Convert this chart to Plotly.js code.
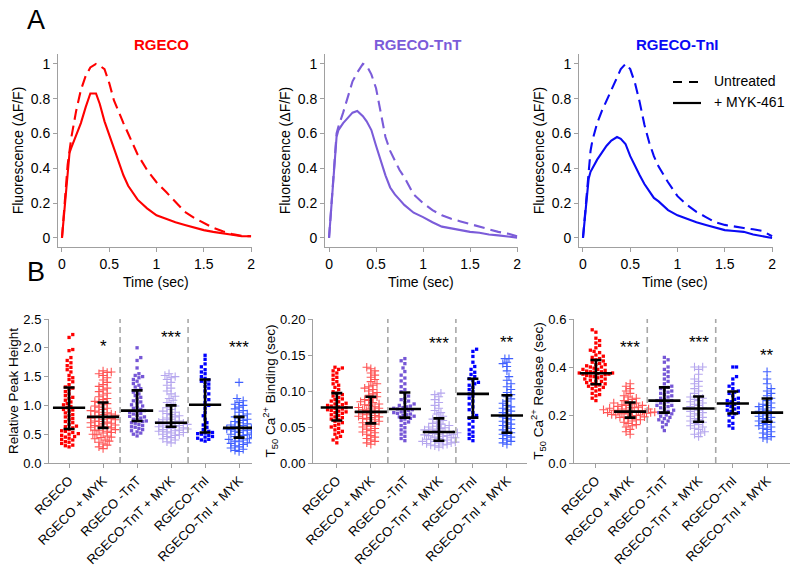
<!DOCTYPE html>
<html>
<head>
<meta charset="utf-8">
<script src="https://cdn.plot.ly/plotly-3.0.1.min.js"></script>
<style>html,body{margin:0;padding:0;background:#fff}#chart{width:800px;height:567px}</style>
</head>
<body>
<div id="chart"></div>
<script>
// ---------- Panel A: fluorescence transients ----------
const timeSec = [0,0.03,0.06,0.08,0.1,0.15,0.2,0.25,0.3,0.36,0.4,0.45,0.5,0.55,0.6,0.65,0.7,0.75,0.8,0.9,1.0,1.1,1.2,1.3,1.4,1.5,1.6,1.7,1.8,1.9,2.0];
const rgecoUntreated = [0,0.2,0.42,0.5,0.58,0.73,0.85,0.93,0.98,1.0,0.99,0.97,0.89,0.79,0.72,0.66,0.6,0.54,0.48,0.39,0.32,0.265,0.21,0.15,0.115,0.085,0.058,0.038,0.022,0.012,0.01];
const rgecoMyk = [0,0.2,0.38,0.49,0.52,0.59,0.66,0.75,0.83,0.83,0.77,0.67,0.59,0.51,0.43,0.36,0.3,0.26,0.22,0.17,0.13,0.11,0.09,0.075,0.06,0.045,0.035,0.025,0.018,0.01,0.01];
const tntUntreated = [0,0.25,0.45,0.6,0.64,0.72,0.81,0.9,0.95,1.0,0.99,0.94,0.86,0.73,0.58,0.5,0.44,0.39,0.35,0.25,0.2,0.16,0.13,0.11,0.095,0.08,0.065,0.05,0.035,0.025,0.01];
const tntMyk = [0,0.22,0.41,0.58,0.62,0.66,0.69,0.72,0.73,0.7,0.67,0.62,0.53,0.44,0.36,0.29,0.25,0.22,0.19,0.145,0.12,0.09,0.065,0.055,0.045,0.035,0.03,0.02,0.015,0.008,0.002];
const tniUntreated = [0,0.18,0.36,0.5,0.56,0.66,0.73,0.79,0.86,0.93,0.97,1.0,0.97,0.89,0.78,0.65,0.55,0.47,0.41,0.32,0.24,0.19,0.15,0.12,0.09,0.075,0.065,0.057,0.05,0.04,0.01];
const tniMyk = [0,0.18,0.34,0.38,0.4,0.45,0.49,0.53,0.56,0.58,0.57,0.54,0.47,0.41,0.36,0.31,0.27,0.23,0.21,0.16,0.13,0.11,0.09,0.075,0.06,0.045,0.04,0.035,0.02,0.012,0.0];
const panelTitles = ['RGECO','RGECO-TnT','RGECO-TnI'];
const panelColors = ['#ff0000','#7b5cd9','#0a0af5'];
const legendLabels = ['Untreated','+ MYK-461'];

// ---------- Panel B: per-cell measurements ----------
const catLabels = ['RGECO','RGECO + MYK','RGECO -TnT','RGECO-TnT + MYK','RGECO-TnI','RGECO-TnI + MYK'];
const groupColors = ['#ff0000','#ff5555','#7657d6','#b6a7ee','#0000ff','#4060ff'];
const groupIsMyk = [false,true,false,true,false,true];

// Relative peak height
const peakRGECO = [0.28,0.30,0.31,0.34,0.36,0.37,0.40,0.41,0.43,0.45,0.46,0.48,0.50,0.51,0.53,0.55,0.56,0.58,0.61,0.63,0.64,0.67,0.70,0.72,0.75,0.77,0.80,0.82,0.84,0.87,0.90,0.92,0.93,0.96,0.98,1.01,1.03,1.06,1.09,1.12,1.14,1.17,1.20,1.24,1.27,1.30,1.32,1.36,1.41,1.45,1.48,1.52,1.58,1.62,1.66,1.69,1.74,1.78,1.83,1.95,1.97,2.18,2.23];
const peakRGECOMyk = [0.25,0.28,0.31,0.33,0.36,0.38,0.40,0.42,0.44,0.45,0.47,0.49,0.50,0.52,0.53,0.55,0.56,0.57,0.58,0.60,0.61,0.62,0.63,0.64,0.65,0.66,0.68,0.69,0.70,0.71,0.72,0.73,0.75,0.76,0.77,0.78,0.79,0.80,0.81,0.83,0.84,0.85,0.87,0.88,0.90,0.91,0.93,0.95,0.97,0.99,1.01,1.03,1.05,1.07,1.10,1.12,1.15,1.18,1.21,1.24,1.27,1.30,1.33,1.36,1.40,1.44,1.48,1.52,1.55,1.57,1.58,1.60];
const peakTnT = [0.47,0.50,0.52,0.54,0.56,0.58,0.60,0.62,0.63,0.65,0.67,0.69,0.70,0.72,0.73,0.75,0.76,0.78,0.80,0.81,0.83,0.85,0.86,0.88,0.90,0.91,0.93,0.95,0.97,0.99,1.01,1.04,1.06,1.08,1.11,1.14,1.17,1.20,1.23,1.26,1.29,1.32,1.35,1.38,1.42,1.45,1.48,1.50,1.52,1.55,1.65,1.78,1.83,2.00];
const peakTnTMyk = [0.35,0.37,0.40,0.42,0.44,0.46,0.48,0.49,0.50,0.52,0.53,0.54,0.55,0.56,0.57,0.58,0.59,0.60,0.61,0.62,0.63,0.64,0.65,0.66,0.67,0.68,0.69,0.70,0.71,0.72,0.73,0.75,0.76,0.78,0.80,0.82,0.84,0.86,0.88,0.90,0.93,0.96,0.99,1.02,1.05,1.09,1.12,1.16,1.20,1.25,1.30,1.35,1.40,1.45,1.48,1.50,1.52,1.55];
const peakTnI = [0.38,0.40,0.41,0.43,0.45,0.46,0.48,0.50,0.51,0.52,0.53,0.55,0.58,0.62,0.66,0.70,0.76,0.82,0.88,0.95,1.00,1.05,1.10,1.15,1.20,1.25,1.30,1.33,1.37,1.40,1.42,1.44,1.47,1.50,1.55,1.58,1.62,1.67,1.72,1.80,1.87];
const peakTnIMyk = [0.20,0.22,0.24,0.26,0.28,0.30,0.32,0.34,0.35,0.37,0.38,0.40,0.41,0.42,0.44,0.45,0.46,0.48,0.49,0.50,0.52,0.53,0.55,0.56,0.57,0.58,0.59,0.60,0.62,0.63,0.65,0.66,0.68,0.70,0.72,0.74,0.76,0.78,0.80,0.82,0.85,0.88,0.91,0.94,0.97,1.00,1.02,1.05,1.08,1.12,1.40];
const peakCenter = [0.96,0.80,0.91,0.70,1.01,0.61];
const peakLow = [0.59,0.61,0.73,0.63,0.53,0.44];
const peakHigh = [1.31,1.05,1.26,1.00,1.45,0.80];

// T50 Ca binding (sec)
const bindRGECO = [0.028,0.032,0.035,0.037,0.040,0.042,0.044,0.046,0.048,0.050,0.052,0.054,0.056,0.058,0.060,0.061,0.063,0.064,0.066,0.067,0.069,0.070,0.071,0.072,0.073,0.074,0.075,0.076,0.077,0.078,0.079,0.080,0.081,0.082,0.083,0.085,0.086,0.088,0.089,0.091,0.093,0.095,0.097,0.099,0.102,0.105,0.108,0.110,0.113,0.116,0.119,0.122,0.125,0.128,0.130,0.132,0.133];
const bindRGECOMyk = [0.026,0.028,0.030,0.032,0.034,0.036,0.038,0.040,0.042,0.043,0.045,0.047,0.048,0.050,0.051,0.053,0.054,0.056,0.057,0.058,0.060,0.061,0.062,0.063,0.064,0.065,0.066,0.067,0.068,0.069,0.070,0.071,0.072,0.073,0.074,0.075,0.076,0.077,0.078,0.080,0.081,0.082,0.084,0.085,0.087,0.088,0.090,0.092,0.094,0.096,0.098,0.100,0.102,0.104,0.106,0.108,0.110,0.113,0.116,0.119,0.122,0.125,0.128,0.131,0.133];
const bindTnT = [0.031,0.034,0.037,0.040,0.043,0.046,0.049,0.052,0.055,0.057,0.059,0.061,0.062,0.064,0.065,0.066,0.067,0.068,0.069,0.070,0.071,0.072,0.073,0.074,0.075,0.076,0.077,0.078,0.079,0.080,0.082,0.084,0.086,0.088,0.090,0.093,0.096,0.099,0.102,0.106,0.110,0.114,0.118,0.122,0.127,0.132,0.138,0.142,0.145];
const bindTnTMyk = [0.022,0.024,0.025,0.025,0.026,0.027,0.028,0.028,0.029,0.030,0.030,0.031,0.032,0.033,0.033,0.034,0.035,0.035,0.036,0.037,0.038,0.038,0.039,0.040,0.040,0.041,0.042,0.043,0.043,0.044,0.045,0.046,0.047,0.048,0.049,0.050,0.051,0.052,0.054,0.055,0.057,0.059,0.061,0.063,0.065,0.068,0.070,0.073,0.076,0.080,0.084,0.088,0.092,0.095,0.097];
const bindTnI = [0.031,0.034,0.037,0.040,0.043,0.046,0.050,0.054,0.058,0.062,0.064,0.066,0.070,0.074,0.078,0.082,0.086,0.090,0.093,0.096,0.099,0.102,0.105,0.108,0.110,0.112,0.115,0.117,0.120,0.123,0.126,0.130,0.134,0.140,0.148,0.155,0.158];
const bindTnIMyk = [0.026,0.028,0.030,0.032,0.034,0.036,0.038,0.040,0.042,0.044,0.046,0.048,0.050,0.052,0.054,0.056,0.058,0.060,0.062,0.064,0.066,0.068,0.070,0.072,0.074,0.076,0.078,0.080,0.083,0.086,0.089,0.092,0.095,0.098,0.102,0.106,0.110,0.115,0.120,0.128,0.134,0.138,0.140,0.145,0.145];
const bindCenter = [0.077,0.071,0.075,0.043,0.096,0.066];
const bindLow = [0.059,0.055,0.063,0.031,0.063,0.042];
const bindHigh = [0.097,0.092,0.098,0.062,0.117,0.094];

// T50 Ca release (sec)
const relRGECO = [0.26,0.27,0.28,0.285,0.29,0.30,0.305,0.31,0.315,0.32,0.32,0.325,0.33,0.33,0.335,0.34,0.34,0.345,0.35,0.35,0.355,0.36,0.36,0.362,0.365,0.368,0.37,0.37,0.372,0.375,0.375,0.378,0.38,0.38,0.383,0.386,0.39,0.39,0.395,0.40,0.40,0.405,0.41,0.41,0.415,0.42,0.425,0.43,0.435,0.44,0.445,0.45,0.46,0.465,0.47,0.48,0.49,0.50,0.51,0.52,0.545,0.555];
const relRGECOMyk = [0.12,0.13,0.14,0.15,0.155,0.16,0.165,0.17,0.175,0.18,0.18,0.185,0.19,0.19,0.192,0.195,0.198,0.20,0.20,0.202,0.205,0.205,0.208,0.21,0.21,0.212,0.215,0.215,0.217,0.218,0.22,0.22,0.222,0.225,0.225,0.228,0.23,0.23,0.233,0.236,0.24,0.24,0.243,0.246,0.25,0.25,0.255,0.26,0.265,0.27,0.275,0.28,0.29,0.30,0.31,0.32,0.33];
const relTnT = [0.135,0.15,0.16,0.17,0.175,0.18,0.185,0.19,0.195,0.20,0.205,0.21,0.21,0.215,0.22,0.225,0.23,0.235,0.24,0.24,0.245,0.25,0.255,0.26,0.26,0.265,0.27,0.275,0.28,0.285,0.29,0.295,0.30,0.305,0.31,0.315,0.32,0.33,0.34,0.35,0.36,0.37,0.38,0.39,0.40,0.42,0.43,0.44];
const relTnTMyk = [0.11,0.12,0.125,0.13,0.14,0.145,0.15,0.155,0.16,0.165,0.17,0.175,0.18,0.185,0.19,0.195,0.20,0.205,0.21,0.215,0.22,0.225,0.23,0.235,0.24,0.245,0.25,0.255,0.26,0.265,0.27,0.275,0.28,0.29,0.30,0.31,0.32,0.33,0.34,0.35,0.37,0.39,0.40,0.40];
const relTnI = [0.145,0.155,0.165,0.175,0.19,0.20,0.205,0.21,0.215,0.22,0.225,0.23,0.235,0.24,0.245,0.25,0.255,0.26,0.265,0.27,0.28,0.29,0.295,0.30,0.31,0.32,0.33,0.35,0.36,0.40,0.40];
const relTnIMyk = [0.10,0.105,0.11,0.12,0.125,0.13,0.14,0.145,0.15,0.155,0.16,0.165,0.17,0.175,0.18,0.185,0.19,0.195,0.20,0.205,0.21,0.215,0.22,0.225,0.23,0.235,0.24,0.245,0.25,0.26,0.27,0.28,0.29,0.30,0.31,0.33,0.35,0.38];
const relCenter = [0.374,0.214,0.26,0.227,0.248,0.21];
const relLow = [0.328,0.189,0.21,0.172,0.206,0.172];
const relHigh = [0.429,0.252,0.315,0.277,0.298,0.269];

// significance markers
const peakSigLabel = ['','*','','***','','***'];
const peakSigY = [0,2.1,0,2.24,0,2.08];
const bindSigLabel = ['','','','***','','**'];
const bindSigY = [0,0,0,0.172,0,0.173];
const relSigLabel = ['','***','','***','','**'];
const relSigY = [0,0.496,0,0.517,0,0.466];

// ---------- layout geometry (pixels) ----------
const W = 800, H = 567;
const FONT = 'Liberation Sans, Arial, Helvetica, sans-serif';
const topY = [54, 247];
const topX = [[58,252],[325,518],[579,773]];
const topXRange = [[-0.042,2.01],[-0.043,2.01],[-0.042,2.01]];
const topYRange = [-0.052,1.057];
const topXTitle = 'Time (sec)';
const topXTitleCenter = [156, 421, 675];
const topYTitle = 'Fluorescence (ΔF/F)';
const botY = [319, 463];
const botX = [[49,252],[313,527],[574,790]];
const botXRange = [[-0.59,5.38],[-0.70,5.59],[-0.64,5.67]];
const botYRange = [[0,2.5],[0,0.2],[0,0.6]];
const botYTitles = ['Relative Peak Height','T<sub>50</sub> Ca<sup>2+</sup> Binding (sec)','T<sub>50</sub> Ca<sup>2+</sup> Release (sec)'];
const botTickFormat = ['.1f','.2f','.1f'];
const botDtick = [0.5,0.05,0.2];

const dx = p => [p[0]/W, p[1]/W];
const dy = p => [1 - p[1]/H, 1 - p[0]/H];

// beeswarm placement of points (layout only; values are untouched)
function swarmOffsets(vals, pxPerY, diam) {
  const order = vals.map((v,i)=>i).sort((a,b)=>vals[a]-vals[b]);
  const placed = [];
  const out = new Array(vals.length).fill(0);
  const step = diam*0.5;
  let flip = 1;
  for (const i of order) {
    const y = vals[i]*pxPerY;
    let chosen = 0;
    for (let k=0;k<200;k++) {
      const cands = k===0 ? [0] : [flip*k*step, -flip*k*step];
      let ok = null;
      for (const c of cands) {
        let free = true;
        for (const p of placed) {
          if ((p.x-c)*(p.x-c)+(p.y-y)*(p.y-y) < diam*diam) { free = false; break; }
        }
        if (free) { ok = c; break; }
      }
      if (ok !== null) { chosen = ok; break; }
    }
    flip = -flip;
    placed.push({x:chosen, y});
    out[i] = chosen;
  }
  return out;
}

const traces = [];
const layout = {
  width: W, height: H,
  margin: {l:0,r:0,t:0,b:0},
  paper_bgcolor: '#fff', plot_bgcolor: 'rgba(0,0,0,0)',
  showlegend: false,
  font: {family: FONT, color: '#000', size: 13},
  shapes: [], annotations: []
};
const axisBase = {
  showline: true, linecolor: '#a0a0a0', linewidth: 1,
  ticks: 'outside', ticklen: 4, tickcolor: '#a0a0a0', tickwidth: 1,
  showgrid: false, zeroline: false, fixedrange: true
};

// top panels
const topSeries = [[rgecoUntreated, rgecoMyk],[tntUntreated, tntMyk],[tniUntreated, tniMyk]];
for (let p=0;p<3;p++) {
  const n = p+1;
  const xa = 'x'+(n===1?'':n), ya = 'y'+(n===1?'':n);
  traces.push({x: timeSec, y: topSeries[p][0], xaxis: xa, yaxis: ya, mode:'lines', type:'scatter',
    line:{color: panelColors[p], width: 2.1, dash:'11px,6px'}, hoverinfo:'skip'});
  traces.push({x: timeSec, y: topSeries[p][1], xaxis: xa, yaxis: ya, mode:'lines', type:'scatter',
    line:{color: panelColors[p], width: 2.1}, hoverinfo:'skip'});
  layout['xaxis'+(n===1?'':n)] = Object.assign({}, axisBase, {
    domain: dx(topX[p]), range: topXRange[p], anchor: ya, tickvals:[0,0.5,1,1.5,2], ticktext:['0','0.5','1','1.5','2'],
    tickfont:{size:14}
  });
  layout['yaxis'+(n===1?'':n)] = Object.assign({}, axisBase, {
    domain: dy(topY), range: topYRange, anchor: xa, tickvals:[0,0.2,0.4,0.6,0.8,1], ticktext:['0','0.2','0.4','0.6','0.8','1'],
    tickfont:{size:14}, title:{text: topYTitle, font:{size:14}, standoff: 3}
  });
  layout.annotations.push({xref:'paper', yref:'paper', x: topXTitleCenter[p]/W, y: 1-282/H, text: topXTitle,
    showarrow:false, font:{size:14}, xanchor:'center', yanchor:'middle'});
  layout.annotations.push({xref:'paper', yref:'paper', x: [161,418,677][p]/W, y: 1-45/H, text: '<b>'+panelTitles[p]+'</b>',
    showarrow:false, font:{size:15, color: panelColors[p]}, xanchor:'center', yanchor:'middle'});
}

// legend (panel A, right)
layout.shapes.push({type:'line', xref:'paper', yref:'paper', x0:673/W, x1:701/W, y0:1-82/H, y1:1-82/H, line:{color:'#000', width:2.2, dash:'9px,7px'}});
layout.shapes.push({type:'line', xref:'paper', yref:'paper', x0:673/W, x1:701/W, y0:1-103/H, y1:1-103/H, line:{color:'#000', width:2.2}});
layout.annotations.push({xref:'paper', yref:'paper', x:712/W, y:1-81/H, text: legendLabels[0], showarrow:false, xanchor:'left', yanchor:'middle', font:{size:14}});
layout.annotations.push({xref:'paper', yref:'paper', x:712/W, y:1-102/H, text: legendLabels[1], showarrow:false, xanchor:'left', yanchor:'middle', font:{size:14}});

// bottom panels
const botGroups = [
  [peakRGECO, peakRGECOMyk, peakTnT, peakTnTMyk, peakTnI, peakTnIMyk],
  [bindRGECO, bindRGECOMyk, bindTnT, bindTnTMyk, bindTnI, bindTnIMyk],
  [relRGECO, relRGECOMyk, relTnT, relTnTMyk, relTnI, relTnIMyk]
];
const botStats = [[peakCenter, peakLow, peakHigh],[bindCenter, bindLow, bindHigh],[relCenter, relLow, relHigh]];
const botSig = [[peakSigLabel, peakSigY],[bindSigLabel, bindSigY],[relSigLabel, relSigY]];
for (let p=0;p<3;p++) {
  const n = p+4;
  const xa = 'x'+n, ya = 'y'+n;
  const pxPerY = (botY[1]-botY[0])/(botYRange[p][1]-botYRange[p][0]);
  const pxPerX = (botX[p][1]-botX[p][0])/(botXRange[p][1]-botXRange[p][0]);
  for (let g=0; g<6; g++) {
    const vals = botGroups[p][g];
    const myk = groupIsMyk[g];
    const offs = swarmOffsets(vals, pxPerY, myk ? 4.1 : 3.7);
    traces.push({
      x: offs.map(o => g + o/pxPerX), y: vals, xaxis: xa, yaxis: ya, type:'scatter', mode:'markers', hoverinfo:'skip',
      marker: myk ? {symbol:'cross-thin', size:6, color: groupColors[g], line:{width:1.1, color: groupColors[g]}}
                  : {symbol:'square', size:3.3, color: groupColors[g], line:{width:0}}
    });
  }
  const [c, lo, hi] = botStats[p];
  traces.push({
    x: [0,1,2,3,4,5], y: c, xaxis: xa, yaxis: ya, type:'scatter', mode:'markers', hoverinfo:'skip',
    marker: {symbol:'line-ew-open', size:23, color:'#000', line:{width:2.6, color:'#000'}},
    error_y: {type:'data', symmetric:false, array: hi.map((h,i)=>h-c[i]), arrayminus: lo.map((l,i)=>c[i]-l), width:5.5, thickness:2.6, color:'#000'}
  });
  layout['xaxis'+n] = Object.assign({}, axisBase, {
    domain: dx(botX[p]), range: botXRange[p], anchor: ya, tickvals:[0,1,2,3,4,5], ticktext: catLabels,
    tickangle: -45, tickfont:{size:13}
  });
  layout['yaxis'+n] = Object.assign({}, axisBase, {
    domain: dy(botY), range: botYRange[p], anchor: xa, dtick: botDtick[p], tick0: 0, tickformat: botTickFormat[p],
    tickfont:{size:13}, title:{text: botYTitles[p], font:{size:13.5}, standoff: 1}
  });
  [1.5, 3.5].forEach(xs => layout.shapes.push({type:'line', xref: xa, yref: ya+' domain', x0: xs, x1: xs, y0: 0, y1: 1,
    line:{color:'#a8a8a8', width:1.6, dash:'6px,4px'}}));
  const [labs, ys] = botSig[p];
  labs.forEach((t,i) => { if (t) layout.annotations.push({xref: xa, yref: ya, x: i, y: ys[i], text: t, showarrow:false,
    xanchor:'center', yanchor:'middle', yshift:-4, font:{size:17, color:'#000'}}); });
}

// panel letters
layout.annotations.push({xref:'paper', yref:'paper', x:36/W, y:1-20/H, text:'A', showarrow:false, xanchor:'center', yanchor:'middle', font:{size:27}});
layout.annotations.push({xref:'paper', yref:'paper', x:36/W, y:1-272/H, text:'B', showarrow:false, xanchor:'center', yanchor:'middle', font:{size:27}});

Plotly.newPlot('chart', traces, layout, {staticPlot:true, displayModeBar:false}).then(gd => {
  // drop empty placeholder title nodes that Plotly leaves behind
  gd.querySelectorAll('text').forEach(t => { if (t.textContent.trim() === '' && !t.querySelector('tspan')) t.remove(); });
});
</script>
</body>
</html>
